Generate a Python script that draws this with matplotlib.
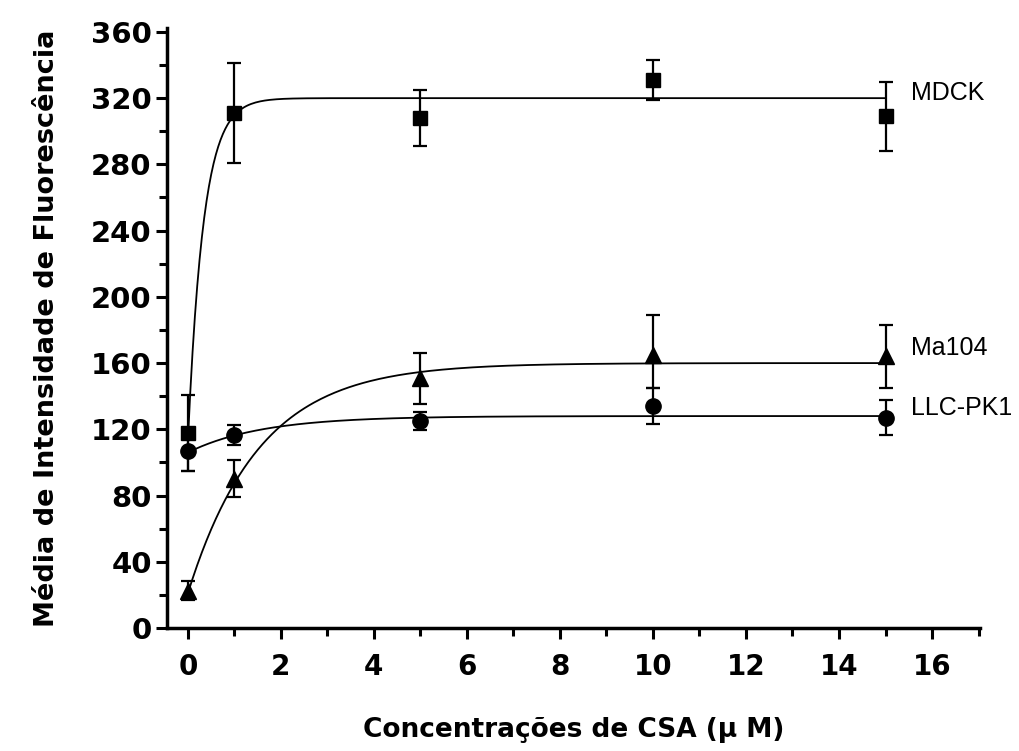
import numpy as np
import matplotlib
matplotlib.use("Agg")
import matplotlib.pyplot as plt

# concentracoes de CSA (uM)
conc = [0, 1, 5, 10, 15]

# MDCK (quadrados)
mdck = [118, 311, 308, 331, 309]
mdck_err = [23, 30, 17, 12, 21]
# Ma104 (triangulos)
ma104 = [22.5, 90, 151, 165, 164]
ma104_err_lo = [5.5, 11, 16, 20, 19]
ma104_err_hi = [6, 11.5, 15, 24, 19]
# LLC-PK1 (circulos)
llc = [107, 116.5, 125, 134, 127]
llc_err = [12, 6, 5.5, 11, 10.5]

# parametros das curvas ajustadas: inicio, plato, taxa
mdck_fit = (113, 320, 3.0)
ma104_fit = (21, 160, 0.65)
llc_fit = (106, 128, 0.63)

labels = ["MDCK", "Ma104", "LLC-PK1"]
label_y = [323, 169, 133]

fig = plt.figure(figsize=(10.2, 7.51), dpi=100)
ax = fig.add_axes([0.1637, 0.1638, 0.797, 0.799])

xs = np.linspace(0, 15, 300)
for y0, plat, k in [mdck_fit, ma104_fit, llc_fit]:
    ax.plot(xs, plat - (plat - y0) * np.exp(-k * xs), color="black", linewidth=1.3, zorder=2)

ax.errorbar(conc, mdck, yerr=mdck_err, fmt="s", color="black", markersize=10,
            elinewidth=1.6, capsize=5, capthick=1.6, zorder=3)
ax.errorbar(conc, ma104, yerr=[ma104_err_lo, ma104_err_hi], fmt="^", color="black",
            markersize=12, elinewidth=1.6, capsize=5, capthick=1.6, zorder=3)
ax.errorbar(conc, llc, yerr=llc_err, fmt="o", color="black", markersize=11,
            elinewidth=1.6, capsize=5, capthick=1.6, zorder=3)

for lab, yy in zip(labels, label_y):
    ax.text(15.55, yy, lab, fontsize=18, family="Liberation Sans", va="center", ha="left")

ax.set_xlim(-0.45, 17.03)
ax.set_ylim(0, 362.4)
ax.set_xticks(range(0, 17, 2))
ax.set_xticks(range(1, 18, 2), minor=True)
ax.set_yticks(range(0, 361, 40))
ax.set_yticks(range(20, 361, 40), minor=True)

for s in ["top", "right"]:
    ax.spines[s].set_visible(False)
for s in ["left", "bottom"]:
    ax.spines[s].set_linewidth(2.5)

ax.tick_params(axis="both", which="major", length=8, width=2.2)
ax.tick_params(axis="both", which="minor", length=6, width=2.2)
ax.tick_params(axis="y", labelsize=21, pad=3)
ax.tick_params(axis="x", labelsize=20, pad=10)
for t in ax.get_xticklabels() + ax.get_yticklabels():
    t.set_fontweight("bold")

ax.set_xlabel("Concentrações de CSA (µ M)", fontsize=19, fontweight="bold", labelpad=26)
ax.set_ylabel("Média de Intensidade de Fluorescência", fontsize=19.5, fontweight="bold", labelpad=22)

fig.savefig("out.png", dpi=100)
